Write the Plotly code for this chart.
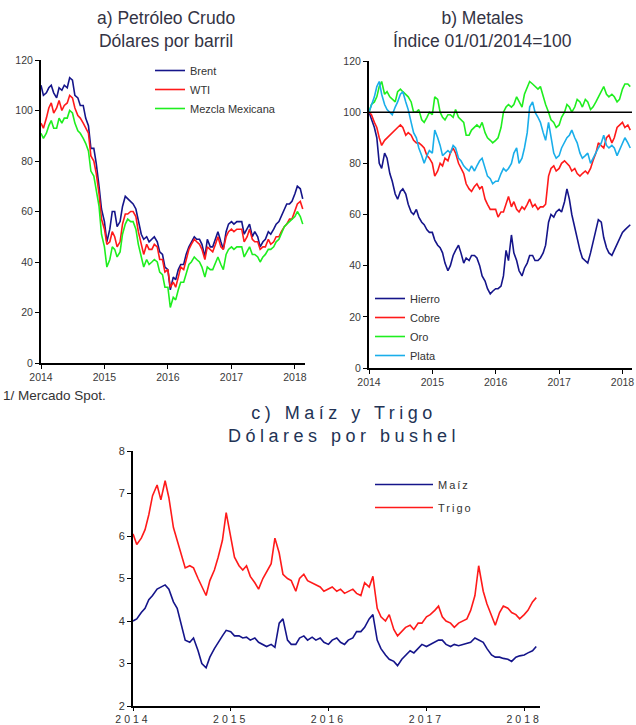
import pandas as pd
import plotly.graph_objects as go

# semi-monthly observation dates (1st and 15th), Jan 2014 - Feb 2018
dates = pd.date_range("2014-01-01", periods=100, freq="SMS")

# a) Petróleo crudo (USD/barril)
brent = [110, 106, 107, 109, 110, 107, 105, 109, 108, 110, 109, 113, 112, 106, 105, 102, 102, 97, 94, 85, 85, 79, 70, 61,
         56, 48, 53, 60, 60, 54, 56, 62, 66, 65, 64, 63, 61, 57, 51, 49, 50, 48, 49, 50, 48, 44, 43, 38,
         37, 29, 34, 33, 37, 39, 39, 43, 46, 48, 50, 49, 49, 47, 42, 49, 46, 46, 49, 52, 48, 45, 52, 55,
         56, 55, 56, 56, 56, 51, 53, 55, 50, 52, 50, 46, 48, 49, 52, 51, 53, 55, 56, 58, 61, 63, 63, 64,
         67, 70, 69, 65]
wti = [95, 93, 97, 101, 103, 99, 101, 104, 100, 102, 103, 106, 105, 101, 98, 97, 95, 93, 91, 82, 80, 75, 67, 57,
       53, 47, 48, 52, 50, 46, 48, 55, 59, 59, 60, 60, 58, 52, 47, 43, 47, 45, 45, 47, 46, 41, 41, 36,
       37, 30, 32, 30, 34, 38, 37, 41, 45, 47, 49, 48, 47, 45, 41, 46, 45, 44, 47, 50, 46, 45, 50, 52,
       53, 52, 53, 53, 53, 48, 50, 53, 49, 48, 48, 45, 46, 46, 49, 47, 48, 50, 50, 52, 54, 55, 57, 57,
       60, 63, 64, 61]
mezcla = [91, 89, 91, 94, 96, 93, 93, 97, 95, 97, 97, 100, 99, 95, 92, 91, 89, 87, 84, 76, 74, 69, 62, 51,
          46, 38, 41, 46, 45, 42, 44, 51, 55, 57, 56, 56, 53, 47, 42, 38, 41, 39, 40, 41, 40, 36, 35, 30,
          30, 22, 26, 25, 29, 32, 32, 35, 39, 40, 42, 41, 40, 38, 34, 38, 37, 37, 40, 42, 39, 37, 43, 45,
          46, 45, 46, 46, 46, 42, 44, 46, 43, 43, 42, 40, 42, 43, 45, 45, 46, 48, 49, 51, 54, 55, 56, 57,
          58, 60, 58, 55]

# b) Metales (índice 01/01/2014=100)
hierro = [100, 97, 94, 90, 80, 78, 84, 82, 76, 73, 68, 66, 69, 70, 68, 64, 61, 60, 62, 59, 57, 56, 54, 53,
          53, 50, 48, 47, 45, 41, 38, 40, 44, 46, 48, 45, 41, 43, 42, 44, 44, 43, 40, 36, 34, 31, 29, 30,
          31, 31, 32, 36, 46, 42, 52, 45, 42, 38, 36, 39, 41, 44, 44, 42, 42, 43, 45, 48, 57, 60, 59, 61,
          62, 61, 65, 70, 66, 60, 55, 50, 46, 43, 42, 41, 45, 49, 55, 58, 57, 51, 47, 45, 44, 46, 48, 50,
          53, 54, 55, 56]
cobre = [100, 99, 96, 94, 90, 87, 89, 90, 91, 92, 93, 94, 95, 94, 91, 92, 91, 89, 88, 88, 87, 86, 83, 82,
         80, 75, 77, 80, 79, 82, 81, 84, 86, 84, 80, 78, 76, 72, 70, 69, 71, 72, 70, 71, 66, 64, 62, 62,
         62, 59, 61, 61, 64, 67, 63, 65, 62, 61, 63, 62, 64, 66, 63, 64, 62, 63, 63, 64, 75, 78, 79, 77,
         78, 80, 81, 80, 79, 77, 78, 76, 75, 76, 77, 76, 78, 81, 84, 88, 87, 86, 90, 91, 88, 90, 94, 95,
         96, 94, 95, 93]
oro = [100, 103, 104, 106, 110, 112, 107, 108, 106, 105, 104, 108, 109, 108, 107, 106, 104, 100, 100, 101, 97, 96, 98, 100,
       99, 106, 105, 100, 98, 97, 99, 99, 98, 101, 98, 97, 96, 91, 91, 93, 94, 95, 94, 96, 92, 90, 89, 88,
       89, 90, 94, 100, 102, 103, 102, 103, 106, 104, 102, 107, 110, 112, 111, 110, 109, 110, 106, 103, 100, 97, 96, 94,
       95, 98, 100, 103, 102, 100, 102, 105, 104, 102, 105, 104, 101, 102, 104, 106, 108, 110, 107, 106, 107, 106, 104, 105,
       109, 111, 111, 110]
plata = [100, 103, 106, 110, 112, 107, 103, 101, 100, 99, 102, 104, 107, 108, 104, 101, 96, 92, 90, 86, 83, 80, 83, 85,
         84, 93, 90, 87, 83, 84, 85, 84, 87, 86, 82, 81, 79, 78, 77, 79, 77, 79, 81, 82, 78, 75, 74, 72,
         73, 73, 76, 78, 77, 78, 80, 84, 86, 80, 82, 86, 92, 102, 104, 100, 98, 96, 92, 89, 96, 90, 84, 82,
         83, 86, 88, 90, 91, 93, 90, 88, 84, 82, 83, 84, 80, 82, 84, 86, 88, 91, 87, 86, 87, 86, 83, 85,
         88, 90, 88, 86]

# c) Maíz y Trigo (USD/bushel)
maiz = [4.00, 4.05, 4.20, 4.30, 4.50, 4.60, 4.75, 4.80, 4.85, 4.75, 4.45, 4.30, 3.90, 3.55, 3.50, 3.60, 3.30, 3.00, 2.90, 3.15, 3.35, 3.50, 3.65, 3.78,
        3.75, 3.65, 3.65, 3.60, 3.62, 3.55, 3.60, 3.50, 3.45, 3.40, 3.45, 3.38, 3.95, 4.05, 3.55, 3.45, 3.45, 3.60, 3.65, 3.55, 3.62, 3.55, 3.60, 3.50,
        3.45, 3.55, 3.60, 3.50, 3.45, 3.55, 3.60, 3.75, 3.75, 3.85, 4.05, 4.15, 3.55, 3.35, 3.20, 3.10, 3.05, 2.95, 3.10, 3.20, 3.30, 3.25, 3.35, 3.45,
        3.40, 3.45, 3.50, 3.55, 3.55, 3.45, 3.40, 3.45, 3.42, 3.45, 3.48, 3.50, 3.60, 3.55, 3.50, 3.35, 3.20, 3.15, 3.15, 3.12, 3.10, 3.05, 3.15, 3.18,
        3.20, 3.25, 3.30, 3.40]
trigo = [6.05, 5.80, 5.95, 6.15, 6.50, 6.95, 7.20, 6.85, 7.30, 6.90, 6.20, 5.90, 5.55, 5.25, 5.30, 5.25, 5.00, 4.80, 4.60, 4.95, 5.20, 5.50, 5.90, 6.55,
         6.00, 5.50, 5.30, 5.20, 5.30, 5.05, 4.90, 4.75, 5.00, 5.15, 5.35, 5.95, 5.60, 5.10, 5.00, 4.95, 4.70, 5.00, 5.10, 4.95, 4.90, 4.85, 4.80, 4.70,
         4.75, 4.80, 4.70, 4.75, 4.65, 4.70, 4.75, 4.65, 4.60, 4.90, 4.80, 5.05, 4.30, 4.10, 4.00, 4.15, 3.80, 3.65, 3.75, 3.85, 3.90, 3.80, 3.95, 3.95,
         4.10, 4.15, 4.25, 4.35, 4.10, 4.00, 3.95, 3.85, 3.95, 4.00, 4.05, 4.25, 4.60, 5.30, 4.70, 4.40, 4.10, 3.90, 4.20, 4.35, 4.30, 4.20, 4.15, 4.05,
         4.15, 4.25, 4.45, 4.55]

year_ticks = ["2014-01-01", "2015-01-01", "2016-01-01", "2017-01-01", "2018-01-01"]
year_labels = ["2014", "2015", "2016", "2017", "2018"]

NAVY = "#15158a"
RED = "#ff1a1a"
GREEN = "#1fee1f"
LBLUE = "#1aaeea"
FONT = "Liberation Sans, Arial, sans-serif"

W, H = 636, 725
def px_x(p): return p / W
def px_y(p): return 1 - p / H

fig = go.Figure()

def add(x, y, name, color, xa, ya, legend, group, width=1.6):
    fig.add_trace(go.Scatter(x=x, y=y, name=name, mode="lines",
                             line=dict(color=color, width=width),
                             xaxis=xa, yaxis=ya, legend=legend, legendgroup=group))

add(dates, brent, "Brent", NAVY, "x", "y", "legend", "a1")
add(dates, wti, "WTI", RED, "x", "y", "legend", "a1")
add(dates, mezcla, "Mezcla Mexicana", GREEN, "x", "y", "legend", "a1")

add(dates, hierro, "Hierro", NAVY, "x2", "y2", "legend2", "b1")
add(dates, cobre, "Cobre", RED, "x2", "y2", "legend2", "b1")
add(dates, oro, "Oro", GREEN, "x2", "y2", "legend2", "b1")
add(dates, plata, "Plata", LBLUE, "x2", "y2", "legend2", "b1")

add(dates, maiz, "<span style='letter-spacing:2px'>Maíz</span>", NAVY, "x3", "y3", "legend3", "c1")
add(dates, trigo, "<span style='letter-spacing:2px'>Trigo</span>", RED, "x3", "y3", "legend3", "c2")

tickfont = dict(family=FONT, size=10.5, color="#3a3a3a")
xcommon = dict(type="date", tickmode="array", tickvals=year_ticks, ticktext=year_labels,
               showline=True, linecolor="black", linewidth=1.5, ticks="outside",
               ticklen=4, tickcolor="black", showgrid=False, zeroline=False, tickfont=tickfont,
               automargin=False)
ycommon = dict(showline=True, linecolor="black", linewidth=2, ticks="outside",
               ticklen=4, tickcolor="black", showgrid=False, zeroline=False, tickfont=tickfont,
               automargin=False)

fig.update_layout(
    width=W, height=H, margin=dict(l=0, r=0, t=0, b=0, autoexpand=False),
    paper_bgcolor="white", plot_bgcolor="white",
    font=dict(family=FONT, color="#333333"),
    xaxis=dict(xcommon, domain=[px_x(41), px_x(305)], range=["2014-01-01", "2018-02-28"], anchor="y"),
    yaxis=dict(ycommon, domain=[px_y(363), px_y(60)], range=[0, 120], dtick=20, anchor="x"),
    xaxis2=dict(xcommon, domain=[px_x(369), px_x(632)], range=["2014-01-01", "2018-02-25"], anchor="y2"),
    yaxis2=dict(ycommon, domain=[px_y(368), px_y(61)], range=[0, 120], dtick=20, anchor="x2"),
    xaxis3=dict(xcommon, domain=[px_x(133), px_x(540)], range=["2014-01-01", "2018-03-01"], anchor="y3",
                ticktext=["<span style='letter-spacing:3px'>%s</span>" % t for t in year_labels],
                ticklen=3, tickfont=dict(family=FONT, size=10.5, color="#333333")),
    yaxis3=dict(ycommon, domain=[px_y(706), px_y(451)], range=[2, 8], dtick=1, anchor="x3",
                tickfont=dict(family=FONT, size=11, color="#333333")),
    showlegend=True,
    legend=dict(x=px_x(150), y=px_y(56), xanchor="left", yanchor="top", bgcolor="rgba(0,0,0,0)",
                font=dict(family=FONT, size=11, color="#333333"), tracegroupgap=0, itemwidth=30),
    legend2=dict(x=px_x(370), y=px_y(284), xanchor="left", yanchor="top", bgcolor="rgba(0,0,0,0)",
                 font=dict(family=FONT, size=11, color="#333333"), tracegroupgap=0, itemwidth=30),
    legend3=dict(x=px_x(370), y=px_y(470), xanchor="left", yanchor="top", bgcolor="rgba(0,0,0,0)",
                 font=dict(family=FONT, size=11, color="#333333"), tracegroupgap=4, itemwidth=58),
)

fig.add_shape(type="line", xref="x2 domain", yref="y2", x0=0, x1=1, y0=100, y1=100,
              line=dict(color="black", width=1.5))

title_font = dict(family=FONT, size=17.5, color="#333344")
fig.add_annotation(text="a) Petróleo Crudo<br>Dólares por barril", x=px_x(166), y=px_y(6),
                   xref="paper", yref="paper", xanchor="center", yanchor="top", showarrow=False,
                   font=title_font)
fig.add_annotation(text="b) Metales<br>Índice 01/01/2014=100", x=px_x(482), y=px_y(6),
                   xref="paper", yref="paper", xanchor="center", yanchor="top", showarrow=False,
                   font=title_font)
fig.add_annotation(text="<span style='letter-spacing:4.5px'>c) Maíz y Trigo</span><br><span style='letter-spacing:4.5px'>Dólares por bushel</span>",
                   x=px_x(344), y=px_y(401), xref="paper", yref="paper", xanchor="center", yanchor="top",
                   showarrow=False, font=dict(family=FONT, size=18, color="#223355"))
fig.add_annotation(text="1/ Mercado Spot.", x=px_x(1), y=px_y(395), xref="paper", yref="paper",
                   xanchor="left", yanchor="middle", showarrow=False,
                   font=dict(family=FONT, size=13.5, color="#333333"))

fig.write_html("out.html", config={"displayModeBar": False},
               post_script="document.body.style.margin='0';document.body.style.overflow='hidden';")
